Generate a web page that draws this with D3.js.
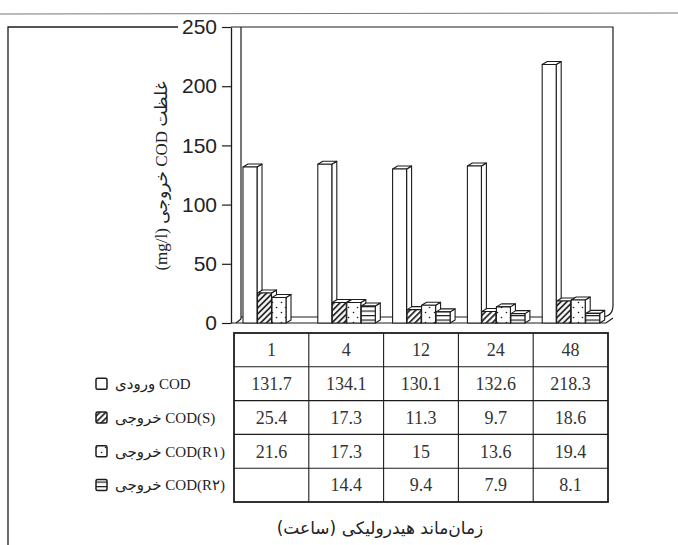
<!DOCTYPE html>
<html>
<head>
<meta charset="utf-8">
<script src="https://cdn.jsdelivr.net/npm/d3@7/dist/d3.min.js"></script>
<style>
  html, body { margin: 0; padding: 0; background: #fff; }
  svg { display: block; }
</style>
</head>
<body>
<svg id="chart" width="678" height="545"></svg>
<script>
// Hydraulic retention time (hours) and COD concentrations (mg/l)
const hours = ["1", "4", "12", "24", "48"];
const codInfluent = [131.7, 134.1, 130.1, 132.6, 218.3];
const codS = [25.4, 17.3, 11.3, 9.7, 18.6];
const codR1 = [21.6, 17.3, 15, 13.6, 19.4];
const codR2 = [null, 14.4, 9.4, 7.9, 8.1];
const seriesKeys = ["in", "s", "r1", "r2"];
const seriesLabels = ["COD ورودی", "COD(S) خروجی", "COD(R۱) خروجی", "COD(R۲) خروجی"];
const yTicks = [0, 50, 100, 150, 200, 250];

const seriesValues = [codInfluent, codS, codR1, codR2];
const fills = ["#fff", "url(#hatch)", "url(#dots)", "url(#stripes)"];

const ink = "#1c1c1c";
const svg = d3.select("#chart");

// ---- fill patterns ----
const defs = svg.append("defs");
const hatch = defs.append("pattern").attr("id", "hatch")
  .attr("patternUnits", "userSpaceOnUse").attr("width", 4.2).attr("height", 10)
  .attr("patternTransform", "rotate(45)");
hatch.append("rect").attr("width", 4.2).attr("height", 10).attr("fill", "#fff");
hatch.append("line").attr("x1", 1).attr("x2", 1).attr("y1", 0).attr("y2", 10)
  .attr("stroke", ink).attr("stroke-width", 1.7);

const dots = defs.append("pattern").attr("id", "dots")
  .attr("patternUnits", "userSpaceOnUse").attr("width", 9).attr("height", 10);
dots.append("rect").attr("width", 9).attr("height", 10).attr("fill", "#fff");
dots.append("circle").attr("cx", 2.5).attr("cy", 2.5).attr("r", 0.8).attr("fill", ink);
dots.append("circle").attr("cx", 6.5).attr("cy", 7.5).attr("r", 0.8).attr("fill", ink);

const stripes = defs.append("pattern").attr("id", "stripes")
  .attr("patternUnits", "userSpaceOnUse").attr("width", 10).attr("height", 4.5);
stripes.append("rect").attr("width", 10).attr("height", 4.5).attr("fill", "#fff");
stripes.append("line").attr("x1", 0).attr("x2", 10).attr("y1", 0.6).attr("y2", 0.6)
  .attr("stroke", ink).attr("stroke-width", 1.2);

// ---- scales ----
const y = d3.scaleLinear().domain([0, 250]).range([323, 27]);
const x = d3.scaleBand().domain(hours).range([234, 608]);
const inner = d3.scaleBand().domain(seriesKeys).range([0, 58]);
const groupOffset = 9;
const barW = 14;
const dx = 5, dy = -3;

// ---- page edge and frame ----
svg.append("line").attr("x1", 0).attr("x2", 678).attr("y1", 14).attr("y2", 13)
  .attr("stroke", "#777").attr("stroke-width", 1);
svg.append("path").attr("d", "M8,545 V27 H178")
  .attr("fill", "none").attr("stroke", ink).attr("stroke-width", 1.3);

// ---- 3D box: left wall, back wall, floor ----
const box = svg.append("g").attr("fill", "none").attr("stroke", ink).attr("stroke-width", 1.2);
box.append("line").attr("x1", 241).attr("x2", 241).attr("y1", y(250)).attr("y2", 319);
box.append("line").attr("x1", 236).attr("x2", 241).attr("y1", y(0)).attr("y2", 319);
box.append("path").attr("d", `M231,${y(250)} H613 V305 Q613,317 601,317 H241`);
box.append("path").attr("d", `M231,${y(0)} H606 L613,318`);

// ---- y axis ----
const yAxis = d3.axisLeft(y).tickValues(yTicks).tickSize(9).tickSizeOuter(0).tickPadding(5);
const ag = svg.append("g").attr("transform", "translate(231,0)").call(yAxis);
ag.select(".domain").attr("stroke", ink).attr("stroke-width", 1.3);
ag.selectAll(".tick line").attr("stroke", ink).attr("stroke-width", 1.2);
ag.selectAll(".tick text")
  .attr("font-family", "'Liberation Sans', Arial, sans-serif")
  .attr("font-size", 21).attr("fill", "#222");

// y axis title
svg.append("text")
  .attr("transform", "translate(167,176) rotate(-90)")
  .attr("text-anchor", "middle")
  .attr("direction", "rtl")
  .attr("font-family", "'Liberation Serif', 'DejaVu Sans', serif")
  .attr("font-size", 17).attr("fill", "#222")
  .text("غلظت COD خروجی (mg/l)");

// ---- 3D bars ----
const bars = svg.append("g").attr("stroke", ink).attr("stroke-width", 1.1).attr("stroke-linejoin", "round");
hours.forEach((h, i) => {
  seriesKeys.forEach((k, j) => {
    const v = seriesValues[j][i];
    if (v == null) return;
    const x0 = x(h) + groupOffset + inner(k);
    const x1 = x0 + barW;
    const yt = y(v), yb = y(0);
    const g = bars.append("g");
    g.append("path").attr("fill", "#fff")
      .attr("d", `M${x1},${yt} L${x1 + dx},${yt + dy} L${x1 + dx},${yb + dy} L${x1},${yb} Z`);
    g.append("path").attr("fill", "#fff")
      .attr("d", `M${x0},${yt} L${x0 + dx},${yt + dy} L${x1 + dx},${yt + dy} L${x1},${yt} Z`);
    g.append("rect").attr("x", x0).attr("y", yt).attr("width", barW).attr("height", yb - yt)
      .attr("fill", fills[j]);
  });
});

// ---- data table ----
const rows = d3.scaleBand().domain(d3.range(5)).range([333, 502]);
const table = svg.append("g");
const tableLines = table.append("g").attr("stroke", ink).attr("stroke-width", 1.1);
d3.range(1, 5).forEach(r => {
  tableLines.append("line").attr("x1", 234).attr("x2", 608)
    .attr("y1", rows(r)).attr("y2", rows(r));
});
hours.slice(1).forEach(h => {
  tableLines.append("line").attr("x1", x(h)).attr("x2", x(h)).attr("y1", 333).attr("y2", 502);
});
table.append("rect").attr("x", 234).attr("y", 333).attr("width", 374).attr("height", 169)
  .attr("fill", "none").attr("stroke", ink).attr("stroke-width", 1.8);

const cellText = (r, i, s) => {
  table.append("text")
    .attr("x", x(hours[i]) + x.bandwidth() / 2)
    .attr("y", rows(r) + rows.bandwidth() / 2)
    .attr("dy", "0.35em").attr("text-anchor", "middle")
    .attr("font-family", "'Liberation Serif', 'Times New Roman', serif")
    .attr("font-size", 18).attr("fill", "#333")
    .text(s);
};
hours.forEach((h, i) => cellText(0, i, h));
seriesValues.forEach((vals, j) => {
  vals.forEach((v, i) => { if (v != null) cellText(j + 1, i, String(v)); });
});

// ---- legend beside the table rows ----
const legend = svg.append("g");
seriesLabels.forEach((lab, j) => {
  const cy = rows(j + 1) + rows.bandwidth() / 2;
  legend.append("rect").attr("x", 96).attr("y", cy - 5.5).attr("width", 11).attr("height", 11)
    .attr("rx", 1.5).attr("fill", fills[j]).attr("stroke", ink).attr("stroke-width", 1.5);
  legend.append("text")
    .attr("x", 115).attr("y", cy).attr("dy", "0.35em")
    .attr("direction", "rtl").attr("text-anchor", "end")
    .attr("font-family", "'Liberation Serif', 'DejaVu Sans', serif")
    .attr("font-size", 15).attr("fill", "#222")
    .text(lab);
});

// ---- x axis title ----
svg.append("text")
  .attr("x", 380).attr("y", 534)
  .attr("direction", "rtl").attr("text-anchor", "middle")
  .attr("font-family", "'DejaVu Sans', sans-serif")
  .attr("font-size", 17).attr("fill", "#222")
  .text("زمان‌ماند هیدرولیکی (ساعت)");
</script>
</body>
</html>
